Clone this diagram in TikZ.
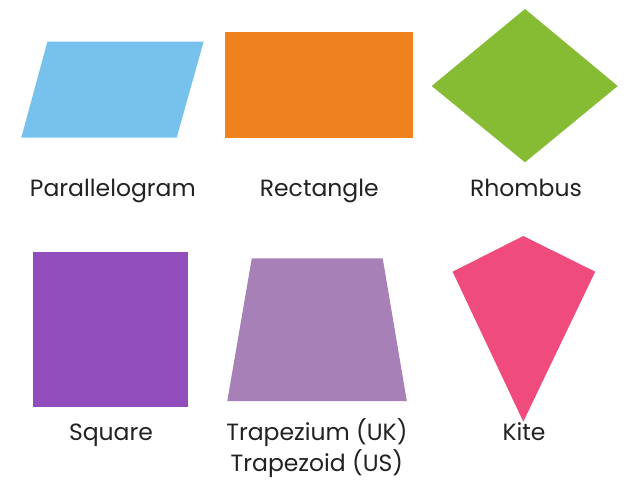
\documentclass[tikz,border=0pt]{standalone}
\usepackage{fontspec}
\setmainfont{Poppins}
\definecolor{pblue}{HTML}{76C2EC}
\definecolor{porange}{HTML}{EF821E}
\definecolor{pgreen}{HTML}{86BC33}
\definecolor{ppurple}{HTML}{914DBB}
\definecolor{plilac}{HTML}{A680B7}
\definecolor{ppink}{HTML}{EF4B7C}
\definecolor{ptext}{HTML}{222222}
\begin{document}
\begin{tikzpicture}[x=1pt,y=-1pt,
  lbl/.style={text=ptext,font=\fontsize{23.5}{28}\selectfont,inner sep=0pt,anchor=base}]
\useasboundingbox (0,0) rectangle (630,498);
\fill[white] (0,0) rectangle (630,498);
% shapes
\fill[pblue] (47.4,41.7) -- (203.6,41.7) -- (176.7,137.7) -- (21.3,137.7) -- cycle;
\fill[porange] (225,32.3) rectangle (412.5,137.7);
\fill[pgreen] (525,9) -- (617.7,86) -- (525,162.3) -- (431.7,86) -- cycle;
\fill[ppurple] (32.9,251.7) rectangle (188.4,407.3);
\fill[plilac] (251.8,258.3) -- (382.7,258.3) -- (406.8,401) -- (227.3,401) -- cycle;
\fill[ppink] (523.3,236) -- (595.2,271.7) -- (523.3,421.7) -- (452.6,271.7) -- cycle;
% labels
\node[lbl] (lpar) at (112.9,196.7) {Parallelogram};
\node[lbl] (lrect) at (319.3,196.7) {Rectangle};
\node[lbl] (lrho) at (526,196.7) {Rhombus};
\node[lbl] (lsq) at (111,440.5) {Square};
\node[lbl] (ltrapuk) at (316.9,440.5) {Trapezium (UK)};
\node[lbl] (ltrapus) at (316.9,471.5) {Trapezoid (US)};
\node[lbl] (lkite) at (524,440.5) {Kite};
\end{tikzpicture}
\end{document}
